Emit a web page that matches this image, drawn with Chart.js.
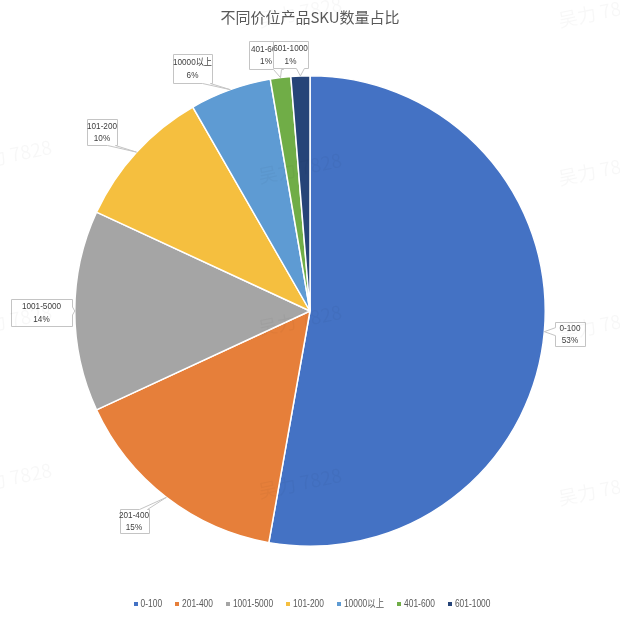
<!DOCTYPE html>
<html>
<head>
<meta charset="utf-8">
<script src="https://cdn.jsdelivr.net/npm/chart.js@4.4.1/dist/chart.umd.min.js"></script>
<style>
html,body{margin:0;padding:0;background:#ffffff;}
#wrap{width:620px;height:620px;position:relative;}
</style>
</head>
<body>
<div id="wrap"><canvas id="c" width="620" height="620"></canvas></div>
<script>
// ---- data ----
const titleText = '不同价位产品SKU数量占比';
const categories = ['0-100', '201-400', '1001-5000', '101-200', '10000以上', '401-600', '601-1000'];
const values = [52.8, 15.3, 13.8, 9.8, 5.6, 1.4, 1.3];
const colors = ['#4472C4', '#E67F3A', '#A5A5A5', '#F5BF3F', '#5E9BD3', '#70AD47', '#264478'];

// ---- label box layout (style/position config, not data) ----
const labelBoxes = [
  {cx: 570, cy: 334, w: 30, h: 24},
  {cx: 134, cy: 521, w: 29, h: 24},
  {cx: 41.5, cy: 312.5, w: 61, h: 27},
  {cx: 102, cy: 132, w: 30, h: 26},
  {cx: 192.5, cy: 68.5, w: 39, h: 29},
  {cx: 266, cy: 55, w: 34, h: 28},
  {cx: 290.5, cy: 54.5, w: 35, h: 27}
];

const watermarkSpots = [[300,168],[300,320],[300,483],[10,155],[10,478],[600,490],[600,170],[600,325],[300,12],[600,12],[10,320]];

const SQX = 0.84; // horizontal condensing to mimic a narrow UI font
const SQX_LABEL = 0.86;

function calloutPath(ctx, L, T, R, B, ax, ay) {
  let side;
  if (ay > B) side = 'bottom';
  else if (ay < T) side = 'top';
  else if (ax > R) side = 'right';
  else side = 'left';
  const clamp = (v, a, b) => Math.max(a, Math.min(b, v));
  const hw = 4;
  ctx.beginPath();
  ctx.moveTo(L, T);
  if (side === 'top') { const c = clamp(ax, L + 6, R - 6); ctx.lineTo(c - hw, T); ctx.lineTo(ax, ay); ctx.lineTo(c + hw, T); }
  ctx.lineTo(R, T);
  if (side === 'right') { const c = clamp(ay, T + 6, B - 6); ctx.lineTo(R, c - hw); ctx.lineTo(ax, ay); ctx.lineTo(R, c + hw); }
  ctx.lineTo(R, B);
  if (side === 'bottom') { const c = clamp(ax, L + 6, R - 6); ctx.lineTo(c + hw, B); ctx.lineTo(ax, ay); ctx.lineTo(c - hw, B); }
  ctx.lineTo(L, B);
  if (side === 'left') { const c = clamp(ay, T + 6, B - 6); ctx.lineTo(L, c + hw); ctx.lineTo(ax, ay); ctx.lineTo(L, c - hw); }
  ctx.closePath();
}

function narrowText(ctx, txt, x, y, align, sq) {
  ctx.save();
  ctx.translate(x, y);
  ctx.scale(sq, 1);
  ctx.textAlign = align;
  ctx.fillText(txt, 0, 0);
  ctx.restore();
}

const overlayPlugin = {
  id: 'overlay',
  afterDraw(chart) {
    const ctx = chart.ctx;
    const meta = chart.getDatasetMeta(0);
    const total = values.reduce((a, b) => a + b, 0);
    // title
    ctx.save();
    ctx.fillStyle = '#595959';
    ctx.font = '15px "Noto Sans CJK SC", "Noto Sans", sans-serif';
    ctx.textAlign = 'center';
    ctx.textBaseline = 'middle';
    ctx.fillText(titleText, 310, 17);
    ctx.restore();

    // data label callouts
    meta.data.forEach((arc, i) => {
      const p = arc.getProps(['x', 'y', 'startAngle', 'endAngle', 'outerRadius'], true);
      const mid = (p.startAngle + p.endAngle) / 2;
      const ax = p.x + Math.cos(mid) * p.outerRadius;
      const ay = p.y + Math.sin(mid) * p.outerRadius;
      const b = labelBoxes[i];
      const L = Math.round(b.cx - b.w / 2) + 0.5, R = Math.round(b.cx + b.w / 2) + 0.5;
      const T = Math.round(b.cy - b.h / 2) + 0.5, B = Math.round(b.cy + b.h / 2) + 0.5;
      ctx.save();
      calloutPath(ctx, L, T, R, B, ax, ay);
      ctx.fillStyle = '#ffffff';
      ctx.fill();
      ctx.strokeStyle = '#c4c4c4';
      ctx.lineWidth = 1;
      ctx.stroke();
      ctx.fillStyle = '#404040';
      ctx.font = '9.5px "Liberation Sans", "Noto Sans CJK SC", sans-serif';
      ctx.textBaseline = 'middle';
      const pct = Math.round(values[i] / total * 100) + '%';
      narrowText(ctx, categories[i], b.cx, b.cy - 6, 'center', SQX_LABEL);
      narrowText(ctx, pct, b.cx, b.cy + 6.5, 'center', SQX_LABEL);
      ctx.restore();
    });

    // legend
    ctx.save();
    ctx.font = '10px "Liberation Sans", "Noto Sans CJK SC", sans-serif';
    ctx.textBaseline = 'middle';
    const box = 4, gap = 3, itemGap = 13;
    let totalW = 0;
    const widths = categories.map(c => ctx.measureText(c).width * SQX);
    widths.forEach(w => totalW += box + gap + w);
    totalW += itemGap * (categories.length - 1);
    let x = 312 - totalW / 2;
    const ly = 604;
    categories.forEach((c, i) => {
      ctx.fillStyle = colors[i];
      ctx.fillRect(Math.round(x), ly - 2, box, box);
      ctx.fillStyle = '#595959';
      narrowText(ctx, c, x + box + gap, ly, 'left', SQX);
      x += box + gap + widths[i] + itemGap;
    });
    ctx.restore();

    // faint watermark
    ctx.save();
    ctx.fillStyle = 'rgba(0,0,0,0.03)';
    ctx.font = '19px "Noto Sans CJK SC", sans-serif';
    ctx.textAlign = 'center';
    ctx.textBaseline = 'middle';
    watermarkSpots.forEach(([wx, wy]) => {
      ctx.save();
      ctx.translate(wx, wy);
      ctx.rotate(-0.2);
      ctx.fillText('吴力 7828', 0, 0);
      ctx.restore();
    });
    ctx.restore();
  }
};

new Chart(document.getElementById('c'), {
  type: 'pie',
  data: {
    labels: categories,
    datasets: [{
      data: values,
      backgroundColor: colors,
      borderColor: '#ffffff',
      borderWidth: 1.5
    }]
  },
  options: {
    responsive: false,
    animation: false,
    layout: {padding: {top: 75, bottom: 73, left: 0, right: 0}},
    plugins: {
      legend: {display: false},
      title: {display: false},
      tooltip: {enabled: false}
    }
  },
  plugins: [overlayPlugin]
});
</script>
</body>
</html>
